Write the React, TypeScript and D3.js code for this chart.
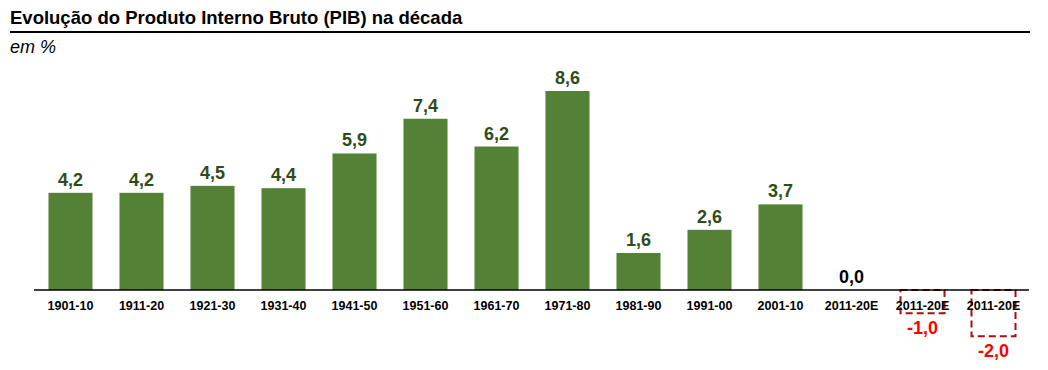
import { useEffect, useRef } from "react";
import * as d3 from "d3";

const categories = [
  "1901-10", "1911-20", "1921-30", "1931-40", "1941-50", "1951-60", "1961-70",
  "1971-80", "1981-90", "1991-00", "2001-10", "2011-20E", "2011-20E", "2011-20E",
];
const values = [4.2, 4.2, 4.5, 4.4, 5.9, 7.4, 6.2, 8.6, 1.6, 2.6, 3.7, 0.0, -1.0, -2.0];
const valueLabels = ["4,2", "4,2", "4,5", "4,4", "5,9", "7,4", "6,2", "8,6", "1,6", "2,6", "3,7", "0,0", "-1,0", "-2,0"];

const width = 1048;
const height = 370;

export default function App() {
  const svgRef = useRef<SVGSVGElement>(null);

  useEffect(() => {
    if (!svgRef.current) return;
    const svg = d3.select(svgRef.current);
    svg.selectAll("*").remove();

    const font = "Arial, 'Liberation Sans', Helvetica, sans-serif";

    // Title + rule
    svg.append("text")
      .attr("x", 10).attr("y", 24)
      .attr("font-family", font)
      .attr("font-weight", "bold")
      .attr("font-size", "18.5px")
      .attr("fill", "#000")
      .text("Evolução do Produto Interno Bruto (PIB) na década");

    svg.append("line")
      .attr("x1", 10).attr("x2", 1030)
      .attr("y1", 32).attr("y2", 32)
      .attr("stroke", "#000")
      .attr("stroke-width", 2);

    svg.append("text")
      .attr("x", 10).attr("y", 53)
      .attr("font-family", font)
      .attr("font-style", "italic")
      .attr("font-size", "18px")
      .attr("fill", "#000")
      .text("em %");

    const x = d3.scaleBand<number>()
      .domain(d3.range(categories.length))
      .range([35, 1029])
      .paddingInner(0.38)
      .paddingOuter(0.19);

    const y = d3.scaleLinear()
      .domain([0, 8.6])
      .range([290, 91]);

    const g = svg.append("g");

    // Positive bars
    g.selectAll("rect.bar")
      .data(values.map((v, i) => ({ v, i })).filter(d => d.v > 0))
      .enter()
      .append("rect")
      .attr("class", "bar")
      .attr("x", d => x(d.i)!)
      .attr("width", x.bandwidth())
      .attr("y", d => y(d.v))
      .attr("height", d => y(0) - y(d.v))
      .attr("fill", "#538135");

    // Negative scenarios as dashed boxes
    g.selectAll("rect.neg")
      .data(values.map((v, i) => ({ v, i })).filter(d => d.v < 0))
      .enter()
      .append("rect")
      .attr("class", "neg")
      .attr("x", d => x(d.i)!)
      .attr("width", x.bandwidth())
      .attr("y", y(0))
      .attr("height", d => y(d.v) - y(0))
      .attr("fill", "none")
      .attr("stroke", "#a50f0f")
      .attr("stroke-width", 2)
      .attr("stroke-dasharray", "7,4");

    // Axis line
    g.append("line")
      .attr("x1", 34).attr("x2", 1029)
      .attr("y1", y(0)).attr("y2", y(0))
      .attr("stroke", "#000")
      .attr("stroke-width", 1.5);

    // Category labels
    g.selectAll("text.cat")
      .data(categories)
      .enter()
      .append("text")
      .attr("class", "cat")
      .attr("x", (_, i) => x(i)! + x.bandwidth() / 2)
      .attr("y", 310)
      .attr("text-anchor", "middle")
      .attr("font-family", font)
      .attr("font-weight", "bold")
      .attr("font-size", "12.5px")
      .attr("fill", "#000")
      .text(d => d);

    // Value labels
    g.selectAll("text.val")
      .data(values)
      .enter()
      .append("text")
      .attr("class", "val")
      .attr("x", (_, i) => x(i)! + x.bandwidth() / 2)
      .attr("y", d => (d >= 0 ? y(d) - 7 : y(d) + 21))
      .attr("text-anchor", "middle")
      .attr("font-family", font)
      .attr("font-weight", "bold")
      .attr("font-size", "18px")
      .attr("fill", d => (d > 0 ? "#2f4b1c" : d < 0 ? "#ff0000" : "#000"))
      .text((_, i) => valueLabels[i]);
  }, []);

  return <svg ref={svgRef} width={width} height={height} style={{ display: "block", margin: "-8px" }} />;
}
